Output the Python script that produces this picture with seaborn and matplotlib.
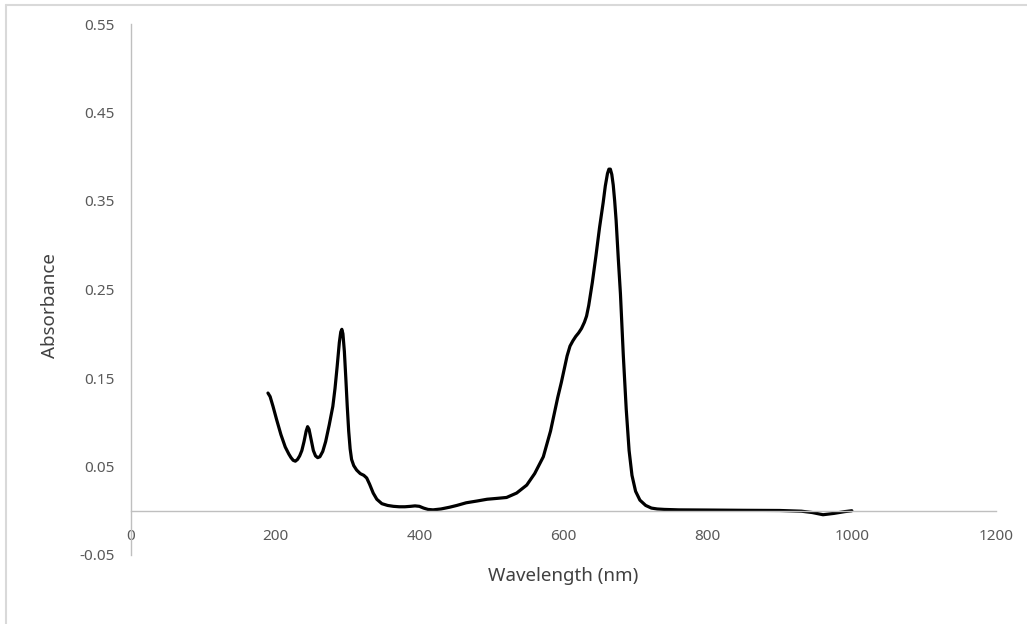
import matplotlib
matplotlib.use("Agg")
import matplotlib.pyplot as plt
import seaborn as sns
import pandas as pd
from matplotlib.lines import Line2D

wavelength = [190, 193, 197, 202, 208, 214, 219, 222, 225, 228, 231, 234, 237, 240, 243,
              245, 247, 250, 253, 256, 259, 262, 266, 270, 275, 280, 283, 286, 289, 291,
              292.5, 294, 296, 298, 300, 302, 304, 306, 309, 313, 318, 323, 327, 331, 336,
              341, 348, 356, 364, 372, 380, 388, 394, 400, 406, 412, 419, 430, 442, 452,
              465, 480, 494, 508, 521, 535, 549, 560, 572, 582, 592, 597, 601, 605, 609,
              613, 617, 621, 625, 629, 632, 635, 640, 645, 650, 655, 658, 661, 663, 665,
              667, 669, 671, 673, 676, 679, 683, 687, 691, 695, 700, 706, 714, 722, 730,
              740, 760, 800, 850, 900, 930, 945, 960, 975, 990, 1000]
absorbance = [0.133, 0.129, 0.118, 0.103, 0.086, 0.072, 0.064, 0.060, 0.057, 0.056, 0.058,
              0.062, 0.068, 0.078, 0.090, 0.095, 0.092, 0.080, 0.068, 0.062, 0.060, 0.061,
              0.067, 0.078, 0.097, 0.118, 0.138, 0.163, 0.190, 0.202, 0.205, 0.200, 0.180,
              0.150, 0.118, 0.090, 0.070, 0.058, 0.051, 0.046, 0.042, 0.040, 0.037, 0.030,
              0.020, 0.013, 0.008, 0.006, 0.005, 0.0045, 0.0045, 0.005, 0.0055, 0.005,
              0.003, 0.0015, 0.001, 0.002, 0.004, 0.006, 0.009, 0.011, 0.013, 0.014, 0.015,
              0.020, 0.029, 0.042, 0.061, 0.090, 0.128, 0.145, 0.160, 0.175, 0.186, 0.192,
              0.197, 0.201, 0.206, 0.213, 0.220, 0.232, 0.258, 0.288, 0.320, 0.348, 0.367,
              0.381, 0.386, 0.386, 0.380, 0.368, 0.350, 0.328, 0.285, 0.245, 0.175, 0.115,
              0.068, 0.040, 0.022, 0.012, 0.006, 0.003, 0.002, 0.0015, 0.001, 0.0008,
              0.0005, 0.0003, -0.0005, -0.002, -0.0045, -0.003, -0.001, 0.0]

x_ticks = [0, 200, 400, 600, 800, 1000, 1200]
y_ticks = [-0.05, 0.05, 0.15, 0.25, 0.35, 0.45, 0.55]
y_tick_labels = ["-0.05", "0.05", "0.15", "0.25", "0.35", "0.45", "0.55"]

sns.set_theme(style="white")
plt.rcParams['font.family'] = ['Noto Sans', 'DejaVu Sans']

df = pd.DataFrame({"Wavelength": wavelength, "Absorbance": absorbance})

fig = plt.figure(figsize=(10.27, 6.24), dpi=100)
ax = fig.add_axes([131 / 1027, 1 - 555 / 624, 865 / 1027, 531 / 624])

sns.lineplot(data=df, x="Wavelength", y="Absorbance", ax=ax, color="black",
             linewidth=2.3, sort=False)
for ln in ax.lines:
    ln.set_solid_joinstyle("round")
    ln.set_solid_capstyle("round")

ax.set_xlim(0, 1200)
ax.set_ylim(-0.05, 0.55)
ax.set_xticks(x_ticks)
ax.set_xticklabels([str(t) for t in x_ticks])
ax.set_yticks(y_ticks)
ax.set_yticklabels(y_tick_labels)

for s in ["top", "right"]:
    ax.spines[s].set_visible(False)
ax.spines["bottom"].set_position(("data", 0))
ax.spines["left"].set_position(("data", 0))
for s in ["bottom", "left"]:
    ax.spines[s].set_color("#bfbfbf")
    ax.spines[s].set_linewidth(1.0)

ax.tick_params(axis="both", length=0, labelsize=11, labelcolor="#595959")
ax.tick_params(axis="x", pad=13)
ax.tick_params(axis="y", pad=12)

ax.set_xlabel("Wavelength (nm)", fontsize=13.5, color="#404040")
ax.set_ylabel("Absorbance", fontsize=13.5, color="#404040")
ax.xaxis.set_label_coords(0.5, -0.022)
ax.yaxis.set_label_coords(-0.083, 0.47)

# chart-area border (top and left edges visible)
fig.add_artist(Line2D([5.5 / 1027, 5.5 / 1027], [0, 1 - 5 / 624], transform=fig.transFigure,
                      color="#d9d9d9", linewidth=1.5))
fig.add_artist(Line2D([5.5 / 1027, 1], [1 - 5 / 624, 1 - 5 / 624], transform=fig.transFigure,
                      color="#d9d9d9", linewidth=1.5))

fig.savefig("out.png", dpi=100)
